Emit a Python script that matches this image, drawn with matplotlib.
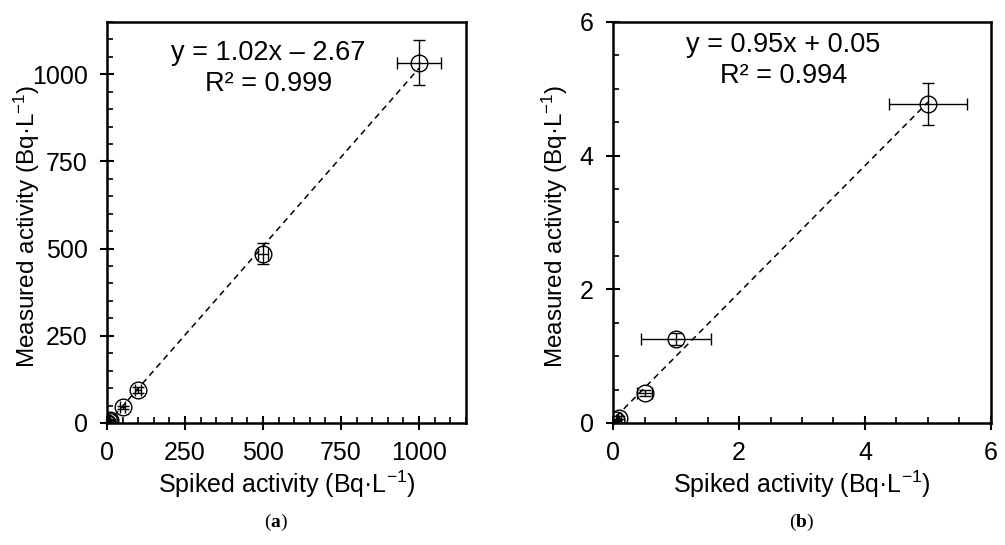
import numpy as np
import matplotlib
matplotlib.use("Agg")
import matplotlib.pyplot as plt
from matplotlib.ticker import MultipleLocator

plt.rcParams["font.family"] = ["Liberation Sans", "DejaVu Sans"]
plt.rcParams["mathtext.fontset"] = "custom"
plt.rcParams["mathtext.rm"] = "Liberation Sans"
plt.rcParams["mathtext.it"] = "Liberation Sans:italic"
plt.rcParams["mathtext.bf"] = "Liberation Serif:bold"

# Daten (a) - gesamter Bereich
spiked_a = [0.05, 0.1, 0.5, 1, 5, 10, 50, 100, 500, 1000]
measured_a = [0.04, 0.08, 0.45, 1.26, 4.77, 9.5, 45, 95, 485, 1033]
xerr_a = [0.005, 0.02, 0.12, 0.55, 0.62, 1, 8, 10, 15, 70]
yerr_a = [0.01, 0.02, 0.05, 0.09, 0.31, 1, 5, 8, 30, 65]

# Daten (b) - niedriger Bereich
spiked_b = [0.05, 0.1, 0.5, 1, 5]
measured_b = [0.04, 0.08, 0.45, 1.26, 4.77]
xerr_b = [0.005, 0.02, 0.12, 0.55, 0.62]
yerr_b = [0.01, 0.02, 0.05, 0.09, 0.31]

fit_a = (1.02, -2.67)
fit_b = (0.95, 0.05)
eq_a = "y = 1.02x \u2013 2.67\nR\u00b2 = 0.999"
eq_b = "y = 0.95x + 0.05\nR\u00b2 = 0.994"

fig = plt.figure(figsize=(10.05, 5.45), dpi=100)
ax1 = fig.add_axes([0.1065, 0.2239, 0.357, 0.7358])
ax2 = fig.add_axes([0.610, 0.2239, 0.376, 0.7358])


def panel(ax, x, y, xe, ye, fit, eq, lim, major, minor, txt_y, ylab_x):
    xx = np.array([min(x), max(x)])
    ax.plot(xx, fit[0] * xx + fit[1], color="black", lw=1.1, ls=(0, (4, 3)), zorder=2)
    ax.errorbar(x, y, xerr=xe, yerr=ye, fmt="o", mfc="none", mec="black",
                ms=12, mew=1.0, ecolor="black", elinewidth=1.0, capsize=4,
                capthick=1.0, zorder=3)
    ax.set_xlim(0, lim)
    ax.set_ylim(0, lim)
    ax.xaxis.set_major_locator(MultipleLocator(major))
    ax.yaxis.set_major_locator(MultipleLocator(major))
    ax.xaxis.set_minor_locator(MultipleLocator(minor))
    ax.yaxis.set_minor_locator(MultipleLocator(minor))
    ax.tick_params(which="major", direction="inout", length=10, width=1.5,
                   labelsize=18)
    ax.tick_params(axis="y", which="major", pad=9)
    ax.tick_params(axis="x", which="major", pad=8)
    ax.tick_params(which="minor", direction="in", length=4, width=1.2)
    for s in ax.spines.values():
        s.set_linewidth(1.8)
    ax.set_xlabel("Spiked activity (Bq\u00b7L$^{-1}$)", fontsize=18, va="center")
    ax.set_ylabel("Measured activity (Bq\u00b7L$^{-1}$)", fontsize=17.5, va="center")
    ax.xaxis.set_label_coords(0.5, -0.152)
    ax.yaxis.set_label_coords(ylab_x, 0.49)
    ax.text(0.45, txt_y, eq, transform=ax.transAxes, ha="center", va="top",
            fontsize=19.5, linespacing=1.25)


panel(ax1, spiked_a, measured_a, xerr_a, yerr_a, fit_a, eq_a, 1150, 250, 50, 0.955, -0.222)
panel(ax2, spiked_b, measured_b, xerr_b, yerr_b, fit_b, eq_b, 6, 2, 0.5, 0.975, -0.153)

fig.text(0.275, 0.042, "($\\mathbf{a}$)", ha="center", va="center",
         fontsize=14, family="Liberation Serif")
fig.text(0.798, 0.042, "($\\mathbf{b}$)", ha="center", va="center",
         fontsize=14, family="Liberation Serif")

fig.savefig("out.png", dpi=100)
